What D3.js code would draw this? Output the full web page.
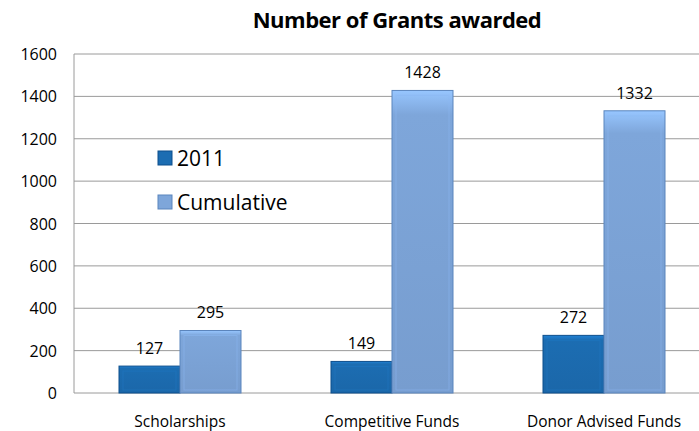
<!DOCTYPE html>
<html>
<head>
<meta charset="utf-8">
<script src="https://cdn.jsdelivr.net/npm/d3@7"></script>
<style>
body{margin:0;background:#fff;}
text{font-family:"Open Sans","Liberation Sans",sans-serif;fill:#000;}
</style>
</head>
<body>
<div class="chart"></div>
<script>
var categories = ["Scholarships","Competitive Funds","Donor Advised Funds"];
var seriesNames = ["2011","Cumulative"];
var values2011 = [127,149,272];
var valuesCumulative = [295,1428,1332];
var yTicks = [0,200,400,600,800,1000,1200,1400,1600];
var colors = ["#1c6db2","#7ea6da"];
var edgeColors = ["#0d4f8c","#5b85bd"];

var w = 699, h = 431;
var margin = {top:54, left:74, bottom:38};

var svg = d3.select("div.chart").append("svg")
  .attr("width", w).attr("height", h);

//scales
var y = d3.scaleLinear().domain([0,1600]).range([h-margin.bottom, margin.top]);
var x = d3.scaleBand().domain(categories).range([margin.left, margin.left+636]);
var xs = d3.scaleBand().domain(seriesNames).range([x.bandwidth()/2-61, x.bandwidth()/2+61]);

//gradients for the bevel look
var defs = svg.append("defs");
colors.forEach(function(c,i){
  var g = defs.append("linearGradient").attr("id","g"+i).attr("x1",0).attr("x2",0).attr("y1",0).attr("y2",1);
  g.append("stop").attr("offset","0%").attr("stop-color", d3.color(c).brighter(0.5));
  g.append("stop").attr("offset","8%").attr("stop-color", c);
  g.append("stop").attr("offset","100%").attr("stop-color", d3.color(c).darker(0.15));
});

//title
svg.append("text").attr("x", 397).attr("y", 28)
  .attr("text-anchor","middle").attr("font-size",22).attr("font-weight","bold")
  .style("letter-spacing","-0.5px")
  .text("Number of Grants awarded");

//grid
svg.selectAll(".grid").data(yTicks).enter().append("line")
  .attr("x1", margin.left).attr("x2", w)
  .attr("y1", function(d){return y(d);}).attr("y2", function(d){return y(d);})
  .attr("stroke", "#9a9a9a").attr("stroke-width", 1);

svg.append("line").attr("x1", margin.left).attr("x2", margin.left)
  .attr("y1", y(1600)).attr("y2", y(0)).attr("stroke","#9a9a9a");

//y labels
svg.selectAll(".ytick").data(yTicks).enter().append("text")
  .attr("x", 57).attr("y", function(d){return y(d)+6;})
  .attr("text-anchor","end").attr("font-size",16)
  .text(function(d){return d;});

//bars
var rows = categories.map(function(c,i){
  return [{cat:c, s:0, v:values2011[i]},{cat:c, s:1, v:valuesCumulative[i]}];
});
var flat = [].concat.apply([], rows);

var bars = svg.selectAll(".bar").data(flat).enter().append("g");
bars.append("rect")
  .attr("x", function(d){return x(d.cat)+xs(seriesNames[d.s]);})
  .attr("y", function(d){return y(d.v);})
  .attr("width", xs.bandwidth())
  .attr("height", function(d){return y(0)-y(d.v);})
  .attr("fill", function(d){return "url(#g"+d.s+")";})
  .attr("stroke", function(d){return edgeColors[d.s];})
  .attr("stroke-width", 1);
//inner bevel highlight
bars.append("rect")
  .attr("x", function(d){return x(d.cat)+xs(seriesNames[d.s])+4;})
  .attr("y", function(d){return y(d.v)+5;})
  .attr("width", xs.bandwidth()-8)
  .attr("height", function(d){return Math.max(0, y(0)-y(d.v)-8);})
  .attr("fill", "none")
  .attr("stroke", function(d){return d3.color(colors[d.s]).brighter(0.3);})
  .attr("stroke-opacity", 0.5)
  .attr("stroke-width", 1);

//value labels
bars.append("text")
  .attr("x", function(d){return x(d.cat)+xs(seriesNames[d.s])+xs.bandwidth()/2;})
  .attr("y", function(d){return y(d.v)-12;})
  .attr("text-anchor","middle").attr("font-size",16)
  .text(function(d){return d.v;});

//category labels
svg.selectAll(".xlab").data(categories).enter().append("text")
  .attr("x", function(d){return x(d)+x.bandwidth()/2;})
  .attr("y", 427)
  .attr("text-anchor","middle").attr("font-size",15.5)
  .text(function(d){return d;});

//legend
var leg = svg.selectAll(".leg").data(seriesNames).enter().append("g")
  .attr("transform", function(d,i){return "translate(158,"+(151+i*44)+")";});
leg.append("rect").attr("width",14).attr("height",14)
  .attr("fill", function(d,i){return colors[i];})
  .attr("stroke", function(d,i){return edgeColors[i];});
leg.append("text").attr("x",19).attr("y",15).attr("font-size",21)
  .text(function(d){return d;});
</script>
</body>
</html>
